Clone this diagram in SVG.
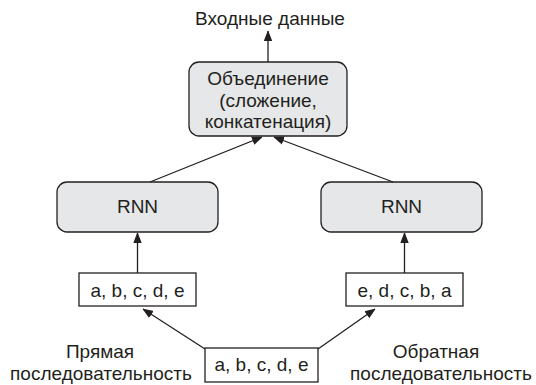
<svg xmlns="http://www.w3.org/2000/svg" width="536" height="385" viewBox="0 0 536 385">
<style>
text{font-family:"Liberation Sans",Arial,sans-serif;font-size:19px;fill:#231f20;text-anchor:middle}
.rb{fill:#e6e7e8;stroke:#231f20;stroke-width:1.3}
.sb{fill:#fff;stroke:#231f20;stroke-width:1.3}
.c{stroke:#231f20;stroke-width:1.3;fill:none;marker-end:url(#ah)}
</style>
<defs>
<marker id="ah" markerWidth="10" markerHeight="12" refX="10" refY="5" orient="auto" markerUnits="userSpaceOnUse">
<path d="M0,0.8 L11,5 L0,9.2 Z" fill="#231f20"/>
</marker>
</defs>
<rect width="536" height="385" fill="#fff"/>
<g id="output"><text x="270" y="25">Входные данные</text></g>
<g id="merge"><rect class="rb" x="189" y="62" width="158" height="74" rx="10"/>
<text x="268" y="85">Объединение</text><text x="268" y="107">(сложение,</text><text x="268" y="128">конкатенация)</text></g>
<g id="rnn1"><rect class="rb" x="57" y="182" width="161" height="50" rx="10"/><text x="137.5" y="213">RNN</text></g>
<g id="rnn2"><rect class="rb" x="321" y="182" width="161" height="50" rx="10"/><text x="401.5" y="213">RNN</text></g>
<g id="fwd"><rect class="sb" x="79" y="273" width="117" height="33"/><text x="137.5" y="297">a, b, c, d, e</text></g>
<g id="bwd"><rect class="sb" x="346" y="273" width="117" height="33"/><text x="404.5" y="297">e, d, c, b, a</text></g>
<g id="input"><rect class="sb" x="205" y="348" width="113" height="34"/><text x="261.5" y="371">a, b, c, d, e</text></g>
<g id="lbl1"><text x="100" y="358">Прямая</text><text x="101" y="380">последовательность</text></g>
<g id="lbl2"><text x="436" y="358">Обратная</text><text x="441" y="380">последовательность</text></g>
<g id="connectors">
<line class="c" x1="268" y1="62" x2="268" y2="31"/>
<line class="c" x1="150" y1="182" x2="262" y2="137"/>
<line class="c" x1="393" y1="182" x2="274" y2="137"/>
<line class="c" x1="137.5" y1="273" x2="137.5" y2="233"/>
<line class="c" x1="404.5" y1="273" x2="404.5" y2="233"/>
<line class="c" x1="205" y1="349" x2="143" y2="309"/>
<line class="c" x1="318" y1="349" x2="375" y2="309"/>
</g>
</svg>
